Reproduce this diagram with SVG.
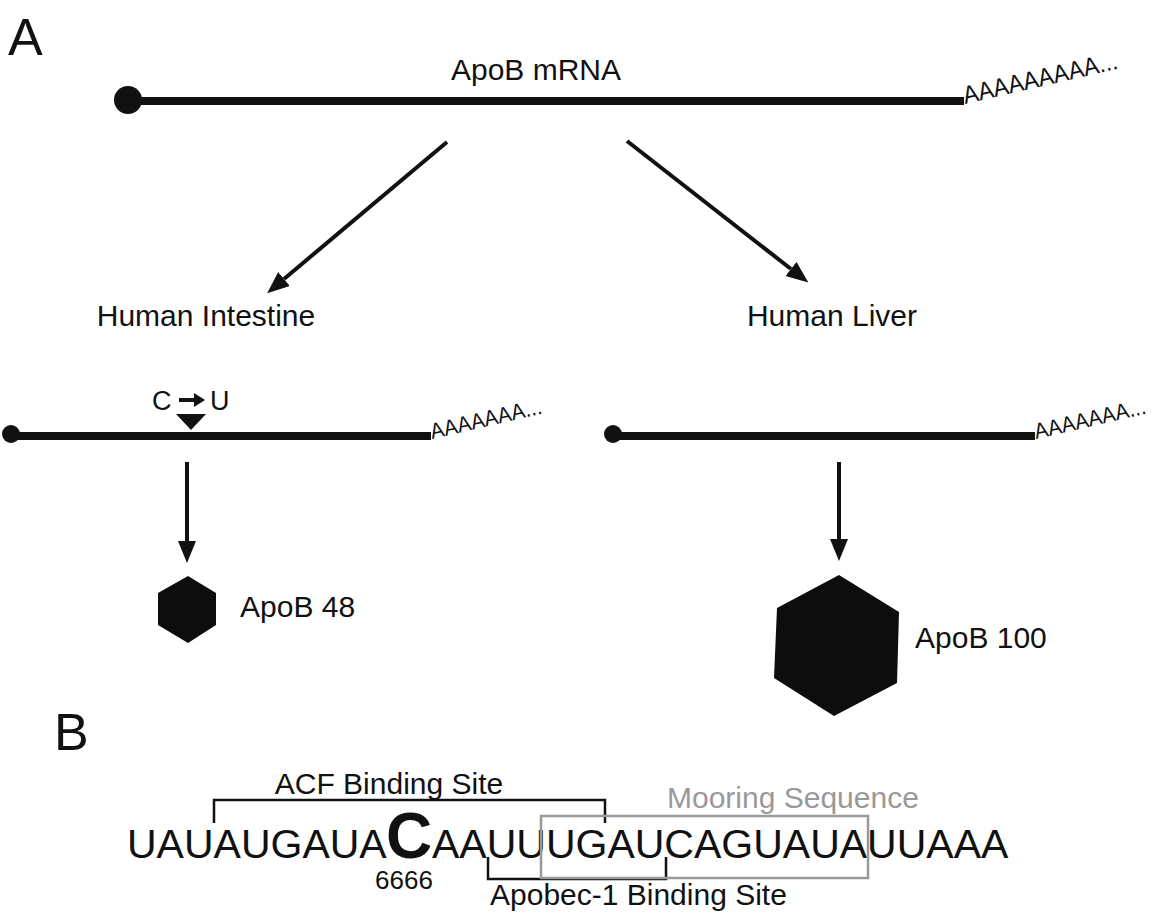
<svg xmlns="http://www.w3.org/2000/svg" width="1153" height="920" viewBox="0 0 1153 920">
<defs>
<style>
text{font-family:"Liberation Sans",Arial,sans-serif;fill:#111}
.lbl{font-size:30px}
.big{font-size:52px}
.tail{font-size:25px}
.tail2{font-size:22px}
.seq{font-size:41px}
.mrna{stroke:#111;stroke-width:8;fill:none}
.arr{stroke:#111;stroke-width:4;fill:none}
.hex{fill:#0d0d0d}
.brk{stroke:#111;stroke-width:2.5;fill:none}
</style>
<marker id="ah" markerUnits="userSpaceOnUse" markerWidth="24" markerHeight="20" refX="0" refY="9" orient="auto">
<path d="M0,0 L22,9 L0,18 z" fill="#111"/>
</marker>
</defs>
<rect width="1153" height="920" fill="#fff"/>
<text class="big" x="8" y="55">A</text>
<text class="big" x="54" y="750">B</text>

<g id="mrna-top">
<line class="mrna" x1="128" y1="101" x2="964" y2="101"/>
<circle cx="128" cy="100" r="14" fill="#111"/>
<text class="lbl" x="536" y="80" text-anchor="middle">ApoB mRNA</text>
<text class="tail" transform="translate(965,104) rotate(-13)" textLength="158" lengthAdjust="spacingAndGlyphs">AAAAAAAAA...</text>
</g>

<g id="intestine-label"><text class="lbl" x="206" y="326" text-anchor="middle">Human Intestine</text></g>
<g id="liver-label"><text class="lbl" x="832" y="326" text-anchor="middle">Human Liver</text></g>

<g id="mrna-intestine">
<line class="mrna" x1="11" y1="436" x2="431" y2="436"/>
<circle cx="11" cy="434" r="9" fill="#111"/>
<text class="tail2" transform="translate(432,439) rotate(-13)" textLength="114" lengthAdjust="spacingAndGlyphs">AAAAAAA...</text>
<text style="font-size:27px" x="152" y="410">C</text>
<text style="font-size:27px" x="210" y="410">U</text>
<line x1="179" y1="400" x2="196" y2="400" stroke="#111" stroke-width="4"/>
<path d="M194,393 L205,400 L194,407 z" fill="#111"/>
<path d="M176,414 L206,414 L191,430 z" fill="#111"/>
</g>

<g id="mrna-liver">
<line class="mrna" x1="613" y1="436" x2="1035" y2="436"/>
<circle cx="613" cy="434" r="9" fill="#111"/>
<text class="tail2" transform="translate(1036,439) rotate(-13)" textLength="114" lengthAdjust="spacingAndGlyphs">AAAAAAA...</text>
</g>

<g id="apob48">
<polygon class="hex" points="188,576 216,593 216,625 188,643 158,625 158,593"/>
<text class="lbl" x="240" y="617">ApoB 48</text>
</g>

<g id="apob100">
<polygon class="hex" points="839,575 899,612 897,683 834,716 774,678 777,608"/>
<text class="lbl" x="915" y="648">ApoB 100</text>
</g>

<g id="connectors">
<line class="arr" x1="447" y1="142" x2="284" y2="279" marker-end="url(#ah)"/>
<line class="arr" x1="627" y1="141" x2="791" y2="269" marker-end="url(#ah)"/>
<line class="arr" x1="187" y1="462" x2="187" y2="541" marker-end="url(#ah)"/>
<line class="arr" x1="839" y1="462" x2="839" y2="539" marker-end="url(#ah)"/>
</g>

<g id="sequence">
<text class="seq" x="127" y="858">UAUAUGAUA</text>
<text x="386" y="858" style="font-size:64px;font-weight:bold">C</text>
<text class="seq" x="432" y="858">AAUUUGAUCAGUAUAUUAAA</text>
<text x="404" y="889" text-anchor="middle" style="font-size:26px">6666</text>
</g>

<g id="acf-site">
<polyline class="brk" points="214,823 214,800 605,800 605,823"/>
<text class="lbl" x="389" y="794" text-anchor="middle">ACF Binding Site</text>
</g>

<g id="apobec-site">
<polyline class="brk" points="488,857 488,879 666,879 666,857"/>
<text class="lbl" x="490" y="905">Apobec-1 Binding Site</text>
</g>

<g id="mooring">
<rect x="541" y="816" width="327" height="62" fill="none" stroke="#999" stroke-width="2.5"/>
<text class="lbl" x="667" y="808" style="fill:#999">Mooring Sequence</text>
</g>
</svg>
